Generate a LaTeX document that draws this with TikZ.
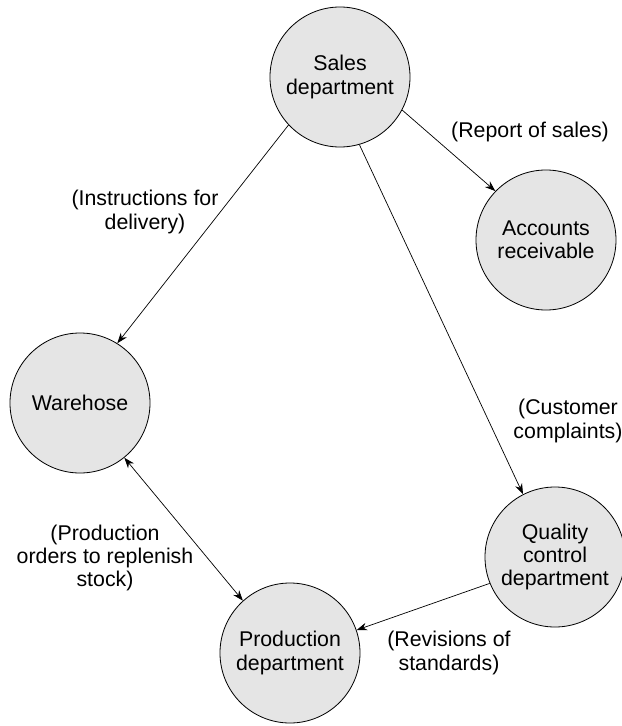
\documentclass[tikz,border=0pt]{standalone}
\usepackage{fontspec}
\setmainfont{Liberation Sans}
\usetikzlibrary{arrows.meta}
\definecolor{deptgray}{RGB}{229,229,229}
\begin{document}
\begin{tikzpicture}[x=0.03cm,y=-0.03cm]
    \tikzstyle{dept} = [circle,draw,fill=deptgray,line width=0.7pt,minimum size=4.2cm,inner sep=0pt,align=center,font=\fontsize{18.2}{20}\selectfont]
    \tikzstyle{note} = [align=center,font=\fontsize{18.2}{20}\selectfont]
    \tikzstyle{flow} = [line width=0.6pt,-{Stealth[length=9pt,width=6.5pt]}]
    \useasboundingbox (0,0) rectangle (622,726);
    % departments
    \node[dept] (sales) at (340,77) {Sales\\department};
    \node[dept] (acc) at (546,240) {Accounts\\receivable};
    \node[dept] (ware) at (80,403) {Warehose};
    \node[dept] (qual) at (555,557) {Quality\\control\\department};
    \node[dept] (prod) at (290,653) {Production\\department};
    % flows
    \draw[flow] (sales.-28) -- (acc.136);
    \draw[flow] (sales.-137) -- (ware.58);
    \draw[flow] (sales.-74) -- (qual.117);
    \draw[flow,{Stealth[length=9pt,width=6.5pt]}-{Stealth[length=9pt,width=6.5pt]}] (ware.-51) -- (prod.132);
    \draw[flow] (qual.-158) -- (prod.19);
    % labels
    \node[note] (lreport) at (530,132) {(Report of sales)};
    \node[note] (ldeliv) at (145,212) {(Instructions for\\delivery)};
    \node[note] (lcompl) at (568,421) {(Customer\\complaints)};
    \node[note] (lorder) at (105,558) {(Production\\orders to replenish\\stock)};
    \node[note] (lrevis) at (449,653) {(Revisions of\\standards)};
\end{tikzpicture}
\end{document}
